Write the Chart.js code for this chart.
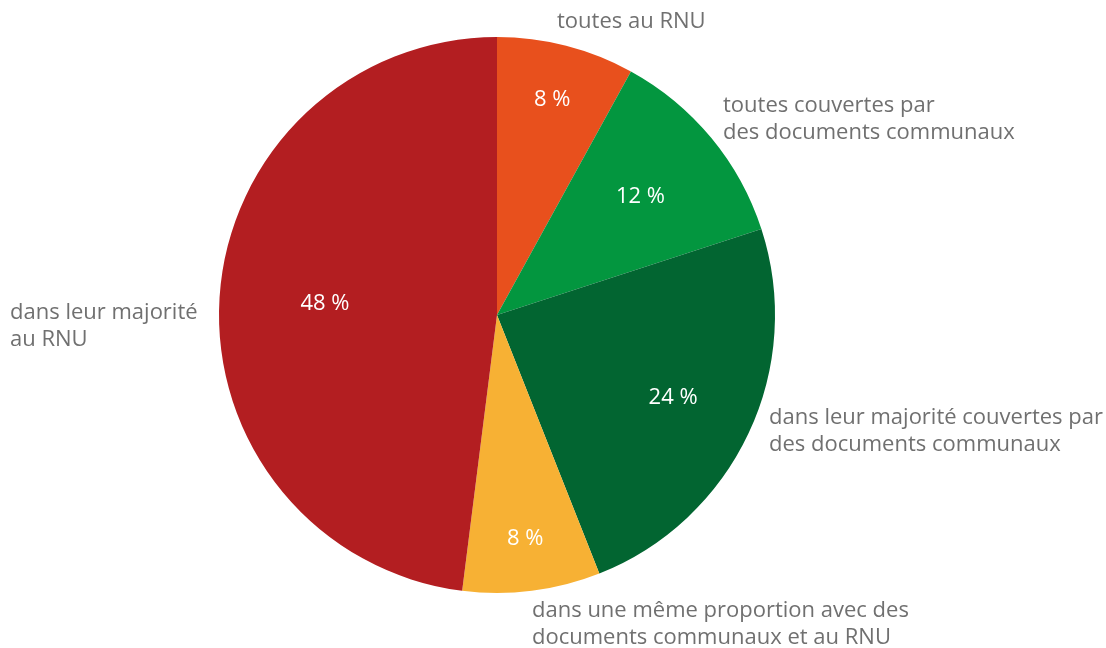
<!DOCTYPE html>
<html>
<head>
<meta charset="utf-8">
<script src="https://cdn.jsdelivr.net/npm/chart.js@4/dist/chart.umd.min.js"></script>
<style>
   html, body { margin: 0; padding: 0; background: #fff; }
   #wrap { width: 1106px; height: 648px; }
</style>
</head>
<body>
<div id="wrap"><canvas id="pieChart"></canvas></div>
<script>
// communes du territoire : situation vis-à-vis des documents d'urbanisme
const categories = [
   ["toutes au RNU"],
   ["toutes couvertes par", "des documents communaux"],
   ["dans leur majorité couvertes par", "des documents communaux"],
   ["dans une même proportion avec des", "documents communaux et au RNU"],
   ["dans leur majorité", "au RNU"],
];
const shares = [8, 12, 24, 8, 48];
const colors = ["#E8501D", "#03963F", "#026531", "#F7B134", "#B31E21"];

// where the text goes, relative to the pie centre
const labelOffset = [[60, -293], [226, -209], [272, 103], [35, 296], [-487, -2]];
const valueRadius = [0.8, 0.67, 0.7, 0.81, 0.62];

const labelPlugin = {
   id: "pieLabels",
   afterDatasetsDraw(chart) {
      const ctx = chart.ctx;
      const arcs = chart.getDatasetMeta(0).data;
      ctx.save();
      ctx.textBaseline = "middle";
      arcs.forEach((arc, i) => {
         const mid = (arc.startAngle + arc.endAngle) / 2;
         const r = arc.outerRadius * valueRadius[i];
         ctx.fillStyle = "#ffffff";
         ctx.font = "22px 'Open Sans'";
         ctx.textAlign = "center";
         ctx.fillText(shares[i] + " %", arc.x + Math.cos(mid) * r, arc.y + Math.sin(mid) * r);

         ctx.fillStyle = "#707070";
         ctx.font = "22px 'Open Sans'";
         ctx.textAlign = "left";
         categories[i].forEach((line, j) => {
            ctx.fillText(line, arc.x + labelOffset[i][0], arc.y + labelOffset[i][1] + j * 27);
         });
      });
      ctx.restore();
   },
};

new Chart(document.getElementById("pieChart"), {
   type: "pie",
   data: {
      labels: categories.map((c) => c.join(" ")),
      datasets: [
         {
            data: shares,
            backgroundColor: colors,
            borderWidth: 0,
         },
      ],
   },
   options: {
      responsive: true,
      maintainAspectRatio: false,
      animation: false,
      layout: { padding: { left: 219, right: 331, top: 37, bottom: 55 } },
      plugins: {
         legend: { display: false },
         tooltip: { enabled: false },
      },
   },
   plugins: [labelPlugin],
});
</script>
</body>
</html>
